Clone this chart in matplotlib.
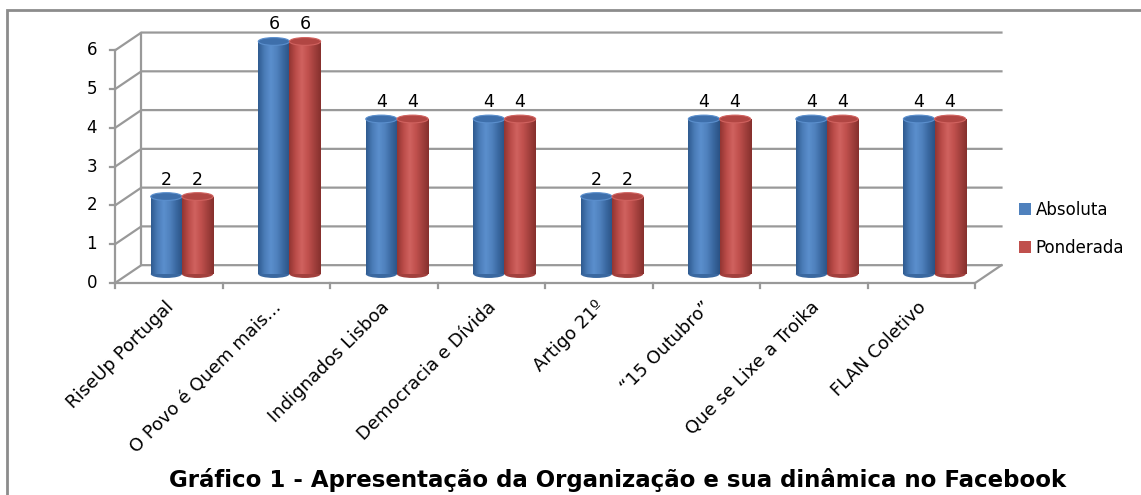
import numpy as np
import matplotlib
matplotlib.use("Agg")
import matplotlib.pyplot as plt
from matplotlib.patches import Ellipse, Rectangle
from matplotlib.colors import LinearSegmentedColormap

# chart data
categories = ["RiseUp Portugal", "O Povo é Quem mais...", "Indignados Lisboa",
              "Democracia e Dívida", "Artigo 21º", "“15 Outubro”",
              "Que se Lixe a Troika", "FLAN Coletivo"]
absoluta = [2, 6, 4, 4, 2, 4, 4, 4]
ponderada = [2, 6, 4, 4, 2, 4, 4, 4]
yticks = [0, 1, 2, 3, 4, 5, 6]
title = "Gráfico 1 - Apresentação da Organização e sua dinâmica no Facebook"

plt.rcParams['font.family'] = ['DejaVu Sans']

W, H = 1141, 495
fig = plt.figure(figsize=(W / 100, H / 100), dpi=100)
# axes: x 0..8.25 -> px 115..1002, y 0..6.5 -> px 283..31
ax = fig.add_axes([115 / W, (H - 283) / H, 887 / W, 252 / H])
ax.set_xlim(0, 8.25)
ax.set_ylim(0, 6.5)
ax.axis('off')

n = len(categories)
dx, dy = 0.245, 0.46   # depth offset (data units)
gc = '#999999'
lw = 1.6

# back wall gridlines + side wall diagonals
for k in yticks:
    ax.plot([0, dx, n + dx], [k, k + dy, k + dy], color=gc, lw=lw, clip_on=False, zorder=1)
ax.plot([dx, dx], [dy, yticks[-1] + dy], color=gc, lw=lw, clip_on=False, zorder=1)
# front y axis and ticks
ax.plot([0, 0], [0, yticks[-1]], color=gc, lw=lw, clip_on=False, zorder=1)
for k in yticks:
    ax.plot([-0.045, 0], [k, k], color=gc, lw=lw, clip_on=False, zorder=1)
    ax.annotate(str(k), (0, k), xytext=(-18, 0), textcoords='offset pixels',
                ha='right', va='center', fontsize=12)
# floor front edge + right side
ax.plot([0, n, n + dx], [0, 0, dy], color=gc, lw=lw, clip_on=False, zorder=1)
for i in range(n + 1):
    ax.plot([i, i], [0, -0.13], color=gc, lw=lw, clip_on=False, zorder=1)

# category labels
for i, c in enumerate(categories):
    ax.annotate(c, (i + 0.5, 0), xytext=(-4, -15), textcoords='offset pixels',
                ha='right', va='top', rotation=45, rotation_mode='anchor', fontsize=13)

# cylinders
w = 0.29
centers = np.arange(n) + 0.5 + dx / 2
eh = 0.2
series = [
    ("Absoluta", absoluta, -w / 2, '#4f81bd',
     ['#2f5b90', '#4a7cb8', '#5b8fcd', '#4f81bd', '#3a68a0', '#2a5285'], '#3e6fab'),
    ("Ponderada", ponderada, w / 2, '#c0504d',
     ['#923532', '#bb4c49', '#d0625f', '#c0504d', '#a2403d', '#86302d'], '#b14643'),
]
grad = np.linspace(0, 1, 64).reshape(1, -1)
handles = []
for name, vals, off, col, stops, topc in series:
    cmap = LinearSegmentedColormap.from_list(name, stops)
    bars = ax.bar(centers + off, vals, w, bottom=dy / 2, color=col, label=name,
                  zorder=3, linewidth=0)
    handles.append(bars)
    for b, v in zip(bars, vals):
        x0, y0 = b.get_x(), b.get_y()
        bw, bh = b.get_width(), b.get_height()
        ax.add_patch(Ellipse((x0 + bw / 2, y0), bw, eh, color=stops[-2], zorder=2.9, lw=0))
        im = ax.imshow(grad, extent=[x0, x0 + bw, y0, y0 + bh], cmap=cmap,
                       aspect='auto', zorder=3.1, interpolation='bilinear')
        im.set_clip_path(b)
        ax.add_patch(Ellipse((x0 + bw / 2, y0 + bh), bw, eh, facecolor=topc,
                             edgecolor=stops[2], lw=0.8, zorder=3.2))
        ax.annotate(str(v), (x0 + bw / 2, y0 + bh), xytext=(0, 17),
                    textcoords='offset pixels', ha='center', va='center', fontsize=12.5)

ax.set_xlim(0, 8.25)
ax.set_ylim(0, 6.5)

fig.legend(handles=handles, loc='center left', bbox_to_anchor=(1004 / W, 1 - 229 / H),
           frameon=False, fontsize=12, handlelength=0.7, handleheight=0.7,
           handletextpad=0.3, labelspacing=1.2)

fig.text(618 / W, 1 - 480 / H, title, ha='center', va='center',
         fontsize=16.5, fontweight='bold')

# outer frame
fig.add_artist(Rectangle((7 / W, -0.2), 1.2, 1.2 - 10 / H, transform=fig.transFigure,
                         fill=False, edgecolor='#8c8c8c', lw=2))

fig.savefig("out.png", dpi=100)
